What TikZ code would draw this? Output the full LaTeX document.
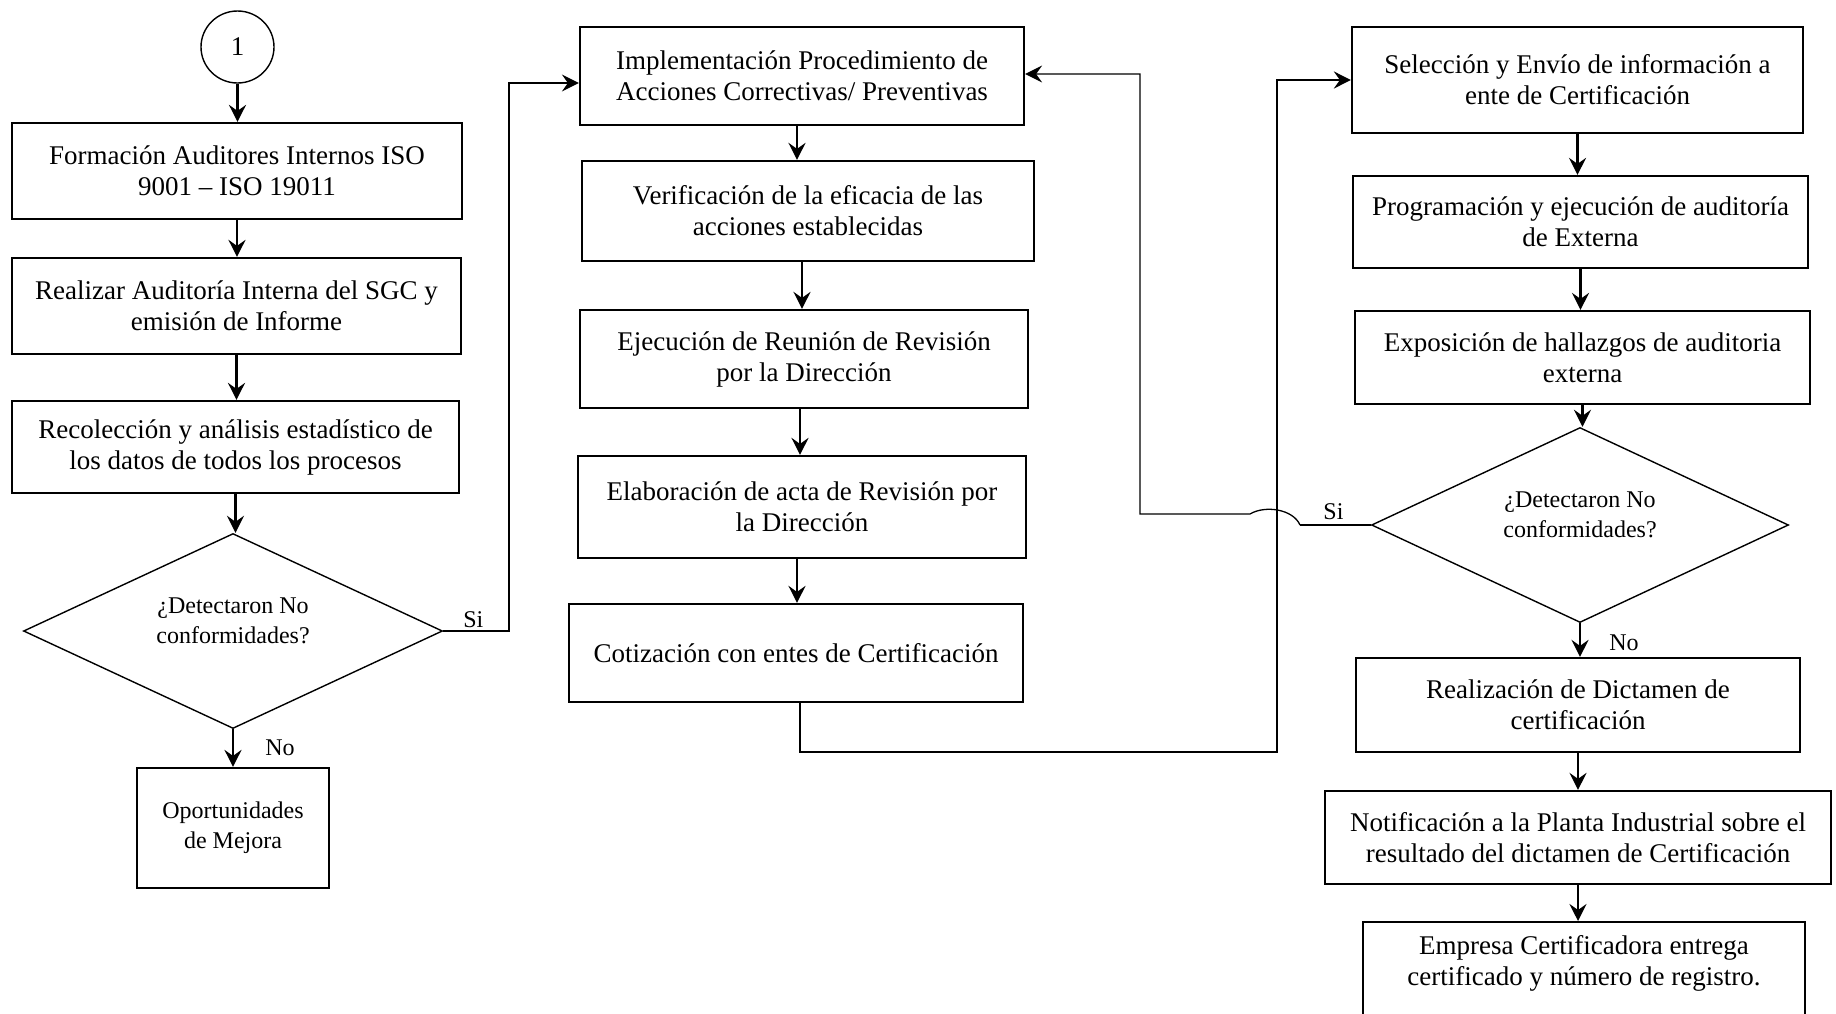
\documentclass[tikz,border=0pt]{standalone}
\usepackage{fontspec}
\setmainfont{Liberation Serif}
\usetikzlibrary{shapes.geometric,arrows.meta}
\newcommand{\flowmain}{\fontsize{13.5}{15.5}\selectfont}
\newcommand{\flowsmall}{\fontsize{12}{15}\selectfont}
\begin{document}
\begin{tikzpicture}[x=0.5pt,y=-0.5pt,
  box/.style={draw, line width=1.1pt, rectangle, align=center, inner sep=2pt, font=\flowmain},
  decision/.style={draw, line width=0.7pt, diamond, aspect=2.15, inner sep=0pt, align=center,
    text depth=10pt, font=\flowsmall},
  connector/.style={draw, line width=0.7pt, ellipse, inner sep=0pt, font=\flowmain},
  tip/.style={-{Stealth[length=8.5pt,width=8.5pt,inset=3pt]}},
  flow/.style={line width=1.3pt, tip},
  thinflow/.style={line width=0.65pt, tip},
  tag/.style={anchor=base west, inner sep=0pt, font=\flowsmall}]

\useasboundingbox (0,0) rectangle (1836,1013);

% ---------- first column: internal audit ----------
\node[connector, minimum width=36.5pt, minimum height=36pt] (start) at (237.5,47) {1};
\node[box, minimum width=225pt, minimum height=48pt] (b1) at (237,171)
  {Formación Auditores Internos ISO\\9001 – ISO 19011};
\node[box, minimum width=224.5pt, minimum height=48pt] (b2) at (236.5,306)
  {Realizar Auditoría Interna del SGC y\\emisión de Informe};
\node[box, minimum width=223.5pt, minimum height=46pt] (b3) at (235.5,447)
  {Recolección y análisis estadístico de\\los datos de todos los procesos};
\node[decision, minimum width=209.5pt, minimum height=97.5pt] (d1) at (233,631)
  {¿Detectaron No\\conformidades?};
\node[box, font=\flowsmall, minimum width=96pt, minimum height=60pt] (op) at (233,828)
  {Oportunidades\\de Mejora};

% ---------- second column: corrective actions and review ----------
\node[box, minimum width=222pt, minimum height=49pt] (m1) at (802,76)
  {Implementación Procedimiento de\\Acciones Correctivas/ Preventivas};
\node[box, minimum width=226pt, minimum height=50pt] (m2) at (808,211)
  {Verificación de la eficacia de las\\acciones establecidas};
\node[box, minimum width=224pt, minimum height=49pt] (m3) at (804,359)
  {Ejecución de Reunión de Revisión\\por la Dirección};
\node[box, minimum width=224pt, minimum height=51pt] (m4) at (802,507)
  {Elaboración de acta de Revisión por\\la Dirección};
\node[box, minimum width=227pt, minimum height=49pt] (m5) at (796,653)
  {Cotización con entes de Certificación};

% ---------- third column: external certification ----------
\node[box, minimum width=225.5pt, minimum height=53pt] (r1) at (1577.5,80)
  {Selección y Envío de información a\\ente de Certificación};
\node[box, minimum width=227.5pt, minimum height=46pt] (r2) at (1580.5,222)
  {Programación y ejecución de auditoría\\de Externa};
\node[box, minimum width=227.5pt, minimum height=46.5pt] (r3) at (1582.5,357.5)
  {Exposición de hallazgos de auditoria\\externa};
\node[decision, minimum width=208.5pt, minimum height=97.5pt] (d2) at (1580,525)
  {¿Detectaron No\\conformidades?};
\node[box, minimum width=222pt, minimum height=47pt] (r4) at (1578,705)
  {Realización de Dictamen de\\certificación};
\node[box, minimum width=253pt, minimum height=46.5pt] (r5) at (1578,837.5)
  {Notificación a la Planta Industrial sobre el\\resultado del dictamen de Certificación};
\node[box, anchor=north, minimum width=221pt, inner ysep=6.8pt, text depth=35pt] (r6) at (1584,921)
  {Empresa Certificadora entrega\\certificado y número de registro.};

% ---------- labels on the decision branches ----------
\node[tag] (si1) at (463,627) {Si};
\node[tag] (no1) at (265,755) {No};
\node[tag] (si2) at (1323,519) {Si};
\node[tag] (no2) at (1609,650) {No};

% ---------- routing points ----------
\coordinate (siup) at (509,83);
\coordinate (cross) at (1277,752);
\coordinate (hopR) at (1300,525);
\coordinate (hopL) at (1250,514);
\coordinate (backup) at (1140,514);

% ---------- straight flow arrows ----------
\draw[flow] (start.south) -- (start.south |- b1.north);
\draw[flow] (b1.south) -- (b1.south |- b2.north);
\draw[flow] (b2.south) -- (b2.south |- b3.north);
\draw[flow] (b3.south) -- (b3.south |- d1.north);
\draw[flow] (d1.south) -- (d1.south |- op.north);

\draw[flow] ([xshift=-2.5pt]m1.south) -- ([xshift=-2.5pt]m1.south |- m2.north);
\draw[flow] ([xshift=-3pt]m2.south) -- ([xshift=-3pt]m2.south |- m3.north);
\draw[flow] ([xshift=-2pt]m3.south) -- ([xshift=-2pt]m3.south |- m4.north);
\draw[flow] ([xshift=-2.5pt]m4.south) -- ([xshift=-2.5pt]m4.south |- m5.north);

\draw[flow] (r1.south) -- (r1.south |- r2.north);
\draw[flow] (r2.south) -- (r2.south |- r3.north);
\draw[flow] (r3.south) -- (r3.south |- d2.north);
\draw[flow] (d2.south) -- (d2.south |- r4.north);
\draw[flow] (r4.south) -- (r4.south |- r5.north);
\draw[flow] (r5.south) -- (r5.south |- r6.north);

% ---------- loops between columns ----------
\draw[thinflow] (d1.east) -| (siup) -- ([yshift=-3.5pt]m1.west);
\draw[flow] ([xshift=2pt]m5.south) |- (cross) |- (r1.west);
\draw[line width=1.3pt] (d2.west) -- (hopR);
\draw[thinflow] (hopR) .. controls (1293,509) and (1265,505) .. (hopL)
  -- (backup) |- ([yshift=1pt]m1.east);
\end{tikzpicture}
\end{document}
